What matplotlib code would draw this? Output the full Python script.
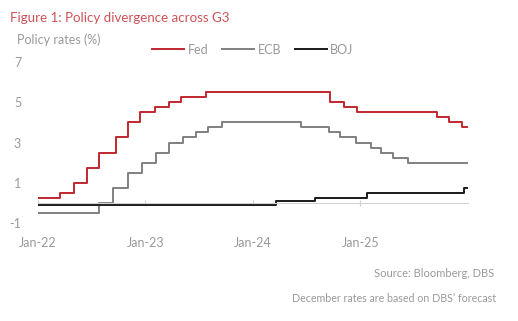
import matplotlib
matplotlib.use("Agg")
import matplotlib.pyplot as plt
import matplotlib.dates as mdates
import pandas as pd

# Dates where each policy rate changed, and the new level (%)
fed_dates = ["2022-01-01", "2022-03-17", "2022-05-05", "2022-06-16", "2022-07-28",
             "2022-09-22", "2022-11-03", "2022-12-15", "2023-02-02", "2023-03-23",
             "2023-05-04", "2023-07-27", "2024-09-19", "2024-11-08", "2024-12-19",
             "2025-09-18", "2025-10-30", "2025-12-11"]
fed_rates = [0.25, 0.50, 1.00, 1.75, 2.50, 3.25, 4.00, 4.50, 4.75, 5.00,
             5.25, 5.50, 5.00, 4.75, 4.50, 4.25, 4.00, 3.75]

ecb_dates = ["2022-01-01", "2022-07-27", "2022-09-14", "2022-11-02", "2022-12-21",
             "2023-02-08", "2023-03-22", "2023-05-10", "2023-06-21", "2023-08-02",
             "2023-09-20", "2024-06-12", "2024-09-18", "2024-10-23", "2024-12-18",
             "2025-02-05", "2025-03-12", "2025-04-23", "2025-06-11"]
ecb_rates = [-0.50, 0.00, 0.75, 1.50, 2.00, 2.50, 3.00, 3.25, 3.50, 3.75,
             4.00, 3.75, 3.50, 3.25, 3.00, 2.75, 2.50, 2.25, 2.00]

boj_dates = ["2022-01-01", "2024-03-19", "2024-07-31", "2025-01-24", "2025-12-19"]
boj_rates = [-0.10, 0.10, 0.25, 0.50, 0.75]

end_date = "2025-12-31"

red = "#c0282e"
txt = "#999999"
plt.rcParams["font.family"] = ["Lato", "DejaVu Sans"]
plt.rcParams["axes.unicode_minus"] = False

fig = plt.figure(figsize=(5.18, 3.21), dpi=100)
ax = fig.add_axes([0.073, 0.305, 0.83, 0.502])


def draw(dates, rates, color, label):
    d = pd.to_datetime(dates + [end_date])
    r = rates + [rates[-1]]
    ax.plot(d, r, drawstyle="steps-post", color=color, lw=1.4, label=label)


draw(fed_dates, fed_rates, red, "Fed")
draw(ecb_dates, ecb_rates, "#808080", "ECB")
draw(boj_dates, boj_rates, "#1a1a1a", "BOJ")

ax.set_ylim(-1, 7)
ax.set_yticks([-1, 1, 3, 5, 7])
ax.set_xlim(pd.Timestamp("2022-01-01"), pd.Timestamp("2026-01-01"))
ax.set_xticks(pd.to_datetime(["2022-01-01", "2023-01-01", "2024-01-01", "2025-01-01"]))
ax.xaxis.set_major_formatter(mdates.DateFormatter("%b-%y"))

for s in ["top", "right", "left"]:
    ax.spines[s].set_visible(False)
ax.spines["bottom"].set_position(("data", 0))
ax.spines["bottom"].set_color("#d0d0d0")
ax.tick_params(axis="x", direction="inout", length=5, color="#d0d0d0",
               labelsize=9, labelcolor=txt, pad=22)
ax.tick_params(axis="y", length=0, labelsize=9, labelcolor=txt, pad=12)

leg = ax.legend(loc="center", bbox_to_anchor=(0.5, 1.075), ncol=3,
                frameon=False, fontsize=9, handlelength=2.6, columnspacing=1.1,
                handletextpad=0.25)
for t in leg.get_texts():
    t.set_color(txt)

fig.text(0.02, 0.945, "Figure 1: Policy divergence across G3", color="#cd5257",
         fontsize=9.6, va="center")
fig.text(0.033, 0.875, "Policy rates (%)", color=txt, fontsize=9, va="center")
fig.text(0.955, 0.148, "Source: Bloomberg, DBS", color=txt, fontsize=8, ha="right", va="center")
fig.text(0.957, 0.07, "December rates are based on DBS\u2019 forecast", color=txt,
         fontsize=7.7, ha="right", va="center")

fig.savefig("out.png", dpi=100)
